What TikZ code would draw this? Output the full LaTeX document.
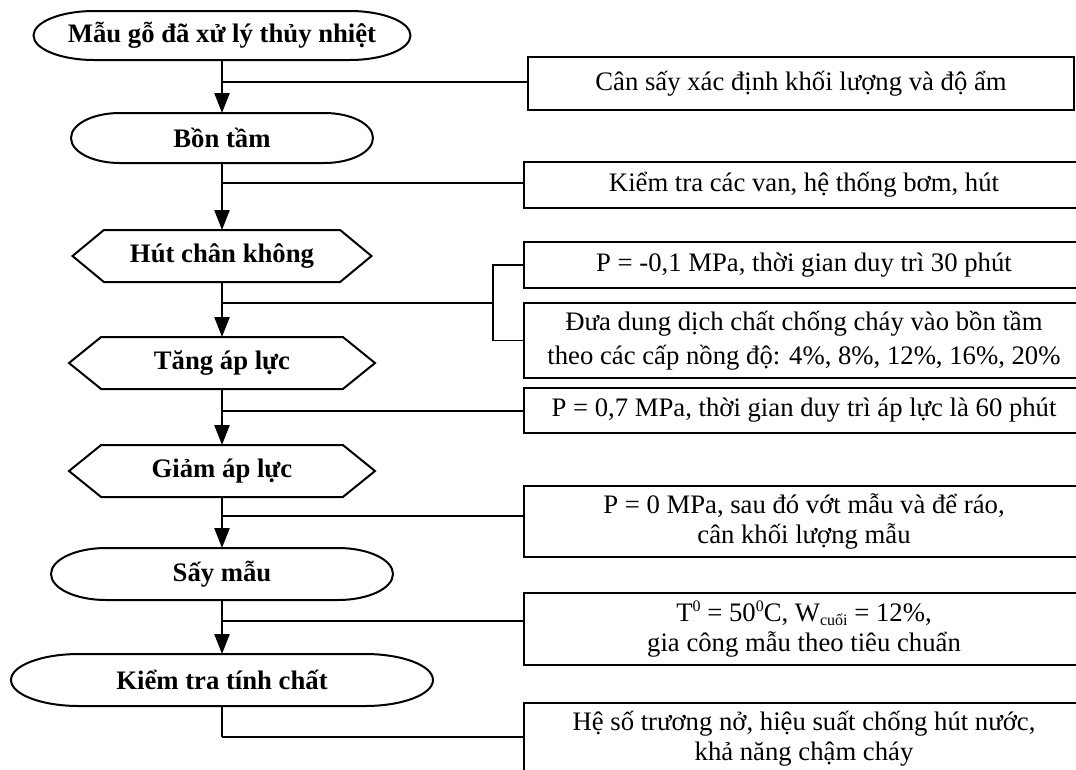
\documentclass[tikz,border=0pt]{standalone}
\usepackage{fontspec}
\setmainfont{Liberation Serif}
\usetikzlibrary{calc,arrows.meta}

\tikzset{
  outline/.style={line width=2pt, line join=miter},
  stage/.style={draw=none, inner sep=0pt, outer sep=0pt,
    font=\fontsize{26.7}{30}\selectfont\bfseries},
  note/.style={draw, outline, inner sep=0pt, outer sep=0pt, align=center,
    minimum width=560pt, font=\fontsize{26.7}{30}\selectfont},
  flow/.style={line width=2.4pt, -{Triangle[width=15pt,length=20pt]}},
  branch/.style={line width=1.6pt},
}

% terminator outline: flat top and bottom, elliptic ends
\newcommand\termoutline[1]{%
  \draw[outline] let \p1=(#1.south west), \p2=(#1.north east),
    \n1={0.161*(\x2-\x1)}, \n2={0.5*(\y2-\y1)} in
    (\x1+\n1,\y1) -- (\x2-\n1,\y1)
    arc[start angle=-90, end angle=90, x radius=\n1, y radius=\n2]
    -- (\x1+\n1,\y2)
    arc[start angle=90, end angle=270, x radius=\n1, y radius=\n2] -- cycle;}

% preparation outline: pointed hexagon
\newcommand\hexoutline[1]{%
  \draw[outline] let \p1=(#1.south west), \p2=(#1.north east),
    \n1={0.105*(\x2-\x1)} in
    (#1.west) -- (\x1+\n1,\y2) -- (\x2-\n1,\y2) -- (#1.east)
    -- (\x2-\n1,\y1) -- (\x1+\n1,\y1) -- cycle;}

\newcommand\supz{\raisebox{0.75ex}{\fontsize{16}{16}\selectfont 0}}

\begin{document}
\begin{tikzpicture}[x=1pt, y=-1pt]
\useasboundingbox (0,0) rectangle (1076,769);

% main stages
\node[stage, minimum width=377pt, minimum height=49pt] (s1) at (222,35.5) {Mẫu gỗ đã xử lý thủy nhiệt};
\node[stage, minimum width=302pt, minimum height=50pt] (s2) at (222,138) {Bồn tầm};
\node[stage, minimum width=299pt, minimum height=52pt] (s3) at (222,256) {Hút chân không};
\node[stage, minimum width=306pt, minimum height=52pt] (s4) at (222,363) {Tăng áp lực};
\node[stage, minimum width=306pt, minimum height=52pt] (s5) at (222,471) {Giảm áp lực};
\node[stage, minimum width=342pt, minimum height=52pt] (s6) at (222,574) {Sấy mẫu};
\node[stage, minimum width=422pt, minimum height=52pt] (s7) at (222,680) {Kiểm tra tính chất};

\termoutline{s1}
\termoutline{s2}
\hexoutline{s3}
\hexoutline{s4}
\hexoutline{s5}
\termoutline{s6}
\termoutline{s7}

% side notes
\node[note, minimum width=546pt, minimum height=53pt] (nA) at (801,83.5) {Cân sấy xác định khối lượng và độ ẩm};
\node[note, minimum height=46pt] (nB) at (804,185) {Kiểm tra các van, hệ thống bơm, hút};
\node[note, minimum height=46pt] (nC) at (804,265) {P = -0,1 MPa, thời gian duy trì 30 phút};
\node[note, minimum height=75pt, font=\fontsize{26.7}{34}\selectfont] (nD) at (804,340.5)
  {Đưa dung dịch chất chống cháy vào bồn tầm\\theo các cấp nồng độ: 4\%, 8\%, 12\%, 16\%, 20\%};
\node[note, minimum height=45pt] (nE) at (804,410.5) {P = 0,7 MPa, thời gian duy trì áp lực là 60 phút};
\node[note, minimum height=71pt] (nP) at (804,521.5) {P = 0 MPa, sau đó vớt mẫu và để ráo,\\cân khối lượng mẫu};
\node[note, minimum height=72pt] (nT) at (804,629)
  {T\supz{} = 50\supz C, W\raisebox{-0.35ex}{\fontsize{16}{16}\selectfont cuối} = 12\%,\\gia công mẫu theo tiêu chuẩn};
\node[note, minimum height=71pt] (nF) at (804,738.5) {Hệ số trương nở, hiệu suất chống hút nước,\\khả năng chậm cháy};

% junctions on the main line
\coordinate (j1) at (222,82);
\coordinate (j2) at (222,183);
\coordinate (j3) at (222,303);
\coordinate (j4) at (222,411);
\coordinate (j5) at (222,516);
\coordinate (j6) at (222,621);
\coordinate (j7) at (222,737);
\coordinate (k) at (493,303);

% main flow
\draw[flow] (s1.south) -- (s2.north);
\draw[flow] (s2.south) -- (s3.north);
\draw[flow] (s3.south) -- (s4.north);
\draw[flow] (s4.south) -- (s5.north);
\draw[flow] (s5.south) -- (s6.north);
\draw[flow] (s6.south) -- (s7.north);
\draw[line width=1.6pt] (s7.south) -- (j7);

% branches to the notes
\draw[branch] (j1) -- (j1 -| nA.west);
\draw[branch] (j2) -- (j2 -| nB.west);
\draw[branch] (j3) -- (k);
\draw[branch] (nC.west) -- (nC.west -| k) -- (nD.west -| k) -- (nD.west);
\draw[branch] (j4) -- (j4 -| nE.west);
\draw[branch] (j5) -- (j5 -| nP.west);
\draw[branch] (j6) -- (j6 -| nT.west);
\draw[branch] (j7) -- (j7 -| nF.west);
\end{tikzpicture}
\end{document}
